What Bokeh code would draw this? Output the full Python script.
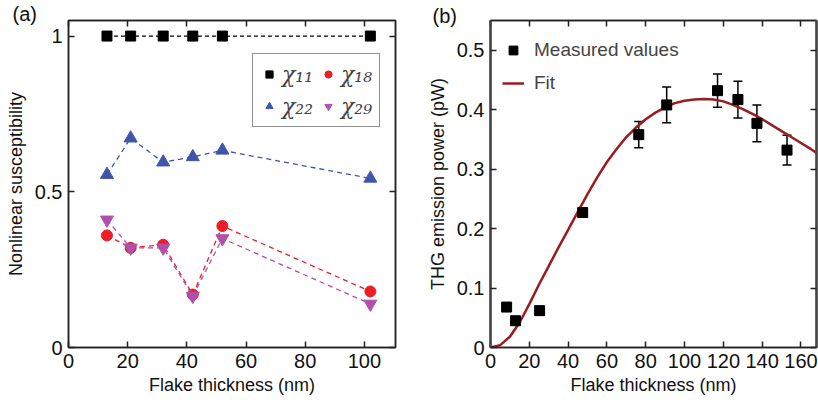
from bokeh.plotting import figure
from bokeh.models import (ColumnDataSource, Whisker, TeeHead, Legend, LegendItem,
                          LinearAxis, FixedTicker, Range1d)
from bokeh.layouts import row
from bokeh.embed import file_html
from bokeh.resources import INLINE

# ---------------- data ----------------
thick_a = [13, 21, 32, 42, 52, 102]
chi11 = [1.0, 1.0, 1.0, 1.0, 1.0, 1.0]
chi18 = [0.36, 0.32, 0.33, 0.17, 0.39, 0.18]
chi22 = [0.555, 0.672, 0.595, 0.612, 0.633, 0.543]
chi29 = [0.41, 0.32, 0.32, 0.165, 0.35, 0.14]

thick_b = [8.3, 12.9, 25.3, 47.5, 76.4, 90.8, 117.0, 127.5, 137.3, 152.8]
power = [0.068, 0.045, 0.062, 0.227, 0.358, 0.408, 0.432, 0.417, 0.377, 0.332]
power_err = [0.0, 0.0, 0.0, 0.004, 0.022, 0.030, 0.028, 0.031, 0.031, 0.025]

fit_x = [0, 5, 10, 15, 20, 25, 30, 35, 40, 45, 50, 55, 60, 65, 70, 75, 80, 85,
         90, 95, 100, 105, 110, 115, 120, 125, 130, 135, 140, 145, 150, 155,
         160, 165, 170]
fit_y = [0.0, 0.004, 0.018, 0.042, 0.073, 0.106, 0.137, 0.168, 0.198, 0.228,
         0.258, 0.286, 0.312, 0.334, 0.354, 0.370, 0.384, 0.395, 0.404, 0.411,
         0.415, 0.417, 0.418, 0.417, 0.414, 0.408, 0.401, 0.393, 0.384, 0.374,
         0.364, 0.354, 0.344, 0.334, 0.323]

ticks_a_x = [0, 20, 40, 60, 80, 100]
ticks_a_y = [0, 0.5, 1]
ticks_b_x = [0, 20, 40, 60, 80, 100, 120, 140, 160]
ticks_b_y = [0, 0.1, 0.2, 0.3, 0.4, 0.5]

FONT = "Liberation Sans"
AX = "#222222"
BLACK = "#000000"
RED = "#ee1c25"
BLUE = "#3f55aa"
MAG = "#b14fad"
FIT = "#9b1b1f"


def style_axes(p, xt, yt, ylabels=None):
    for ax in p.xaxis:
        ax.ticker = FixedTicker(ticks=xt)
    for ax in p.yaxis:
        ax.ticker = FixedTicker(ticks=yt)
    for ax in list(p.xaxis) + list(p.yaxis):
        ax.axis_line_color = AX
        ax.axis_line_width = 1.5
        ax.major_tick_line_color = AX
        ax.major_tick_line_width = 1.5
        ax.major_tick_in = 6
        ax.major_tick_out = 0
        ax.minor_tick_line_color = None
        ax.major_label_text_font = FONT
        ax.major_label_text_font_size = "20px"
        ax.major_label_text_color = "#111111"
        ax.axis_label_text_font = FONT
        ax.axis_label_text_font_size = "18px"
        ax.axis_label_text_font_style = "normal"
        ax.axis_label_text_color = "#111111"
    p.xaxis.major_label_standoff = 6
    p.yaxis.major_label_standoff = 6
    p.xaxis.axis_label_standoff = 4
    p.yaxis.axis_label_standoff = 6
    if ylabels:
        p.yaxis.major_label_overrides = ylabels
    # mirrored ticks on top and right
    top = LinearAxis(ticker=FixedTicker(ticks=xt), major_label_text_font_size="0px",
                     major_label_standoff=0, major_tick_in=6, major_tick_out=0,
                     minor_tick_line_color=None, axis_line_color=AX, axis_line_width=1.5,
                     major_tick_line_color=AX, major_tick_line_width=1.5)
    right = LinearAxis(ticker=FixedTicker(ticks=yt), major_label_text_font_size="0px",
                       major_label_standoff=0, major_tick_in=6, major_tick_out=0,
                       minor_tick_line_color=None, axis_line_color=AX, axis_line_width=1.5,
                       major_tick_line_color=AX, major_tick_line_width=1.5)
    p.add_layout(top, "above")
    p.add_layout(right, "right")
    p.xgrid.visible = False
    p.ygrid.visible = False
    p.outline_line_color = AX
    p.outline_line_width = 1.5


def style_title(p, offset, standoff):
    p.title.text_font = FONT
    p.title.text_font_size = "20px"
    p.title.text_font_style = "normal"
    p.title.text_color = "#111111"
    p.title.align = "left"
    p.title.vertical_align = "bottom"
    p.title.offset = offset
    p.title.standoff = standoff


# ---------------- panel (a) ----------------
pa = figure(width=410, height=408, output_backend="svg", toolbar_location=None,
            title="(a)",
            x_range=Range1d(0, 110.5), y_range=Range1d(0, 1.05),
            min_border_left=68, min_border_right=15, min_border_top=20,
            min_border_bottom=61)
pa.xaxis.axis_label = "Flake thickness (nm)"
pa.yaxis.axis_label = "Nonlinear susceptibility"
style_axes(pa, ticks_a_x, ticks_a_y, {0: "0", 0.5: "0.5", 1: "1"})
style_title(pa, -56, -9)

src_a = ColumnDataSource(dict(x=thick_a, c11=chi11, c18=chi18, c22=chi22, c29=chi29))
pa.line("x", "c11", source=src_a, line_color=BLACK, line_dash="4 3", line_width=1.3)
r11 = pa.scatter("x", "c11", source=src_a, marker="square", size=10, color=BLACK)
pa.line("x", "c22", source=src_a, line_color=BLUE, line_dash="5 4", line_width=1.3)
r22 = pa.scatter("x", "c22", source=src_a, marker="triangle", size=13, color=BLUE)
pa.line("x", "c18", source=src_a, line_color=RED, line_dash="5 4", line_width=1.3)
r18 = pa.scatter("x", "c18", source=src_a, marker="circle", size=11, color=RED)
pa.line("x", "c29", source=src_a, line_color=MAG, line_dash="5 4", line_width=1.3)
r29 = pa.scatter("x", "c29", source=src_a, marker="inverted_triangle", size=13, color=MAG)

leg_a = Legend(items=[LegendItem(label="χ₁₁", renderers=[r11]),
                      LegendItem(label="χ₂₂", renderers=[r22]),
                      LegendItem(label="χ₁₈", renderers=[r18]),
                      LegendItem(label="χ₂₉", renderers=[r29])],
               ncols=2, location=(184, 220))
leg_a.label_text_font = "DejaVu Serif"
leg_a.label_text_font_style = "italic"
leg_a.label_text_font_size = "22px"
leg_a.border_line_color = AX
leg_a.border_line_width = 1.5
leg_a.padding = 7
leg_a.spacing = 6
leg_a.glyph_width = 18
leg_a.glyph_height = 26
leg_a.label_height = 26
leg_a.label_standoff = 4
leg_a.background_fill_alpha = 1
pa.add_layout(leg_a)

# ---------------- panel (b) ----------------
pb = figure(width=408, height=408, output_backend="svg", toolbar_location=None,
            title="(b)",
            x_range=Range1d(0, 168), y_range=Range1d(0, 0.55),
            min_border_left=80, min_border_right=2, min_border_top=17,
            min_border_bottom=61)
pb.xaxis.axis_label = "Flake thickness (nm)"
pb.yaxis.axis_label = "THG emission power (pW)"
style_axes(pb, ticks_b_x, ticks_b_y, {0: "0", 0.1: "0.1", 0.2: "0.2", 0.3: "0.3",
                                       0.4: "0.4", 0.5: "0.5"})
style_title(pb, -58, -13)
pb.yaxis.axis_line_color = "#444444"
pb.yaxis.axis_line_width = 2.5

src_b = ColumnDataSource(dict(x=thick_b, y=power,
                              lo=[v - e for v, e in zip(power, power_err)],
                              hi=[v + e for v, e in zip(power, power_err)]))
fit_src = ColumnDataSource(dict(x=fit_x, y=fit_y))
rfit = pb.line("x", "y", source=fit_src, line_color=FIT, line_width=2.5)
wh = Whisker(source=src_b, base="x", lower="lo", upper="hi", line_color=BLACK,
             line_width=1.5,
             upper_head=TeeHead(size=9, line_color=BLACK, line_width=1.5),
             lower_head=TeeHead(size=9, line_color=BLACK, line_width=1.5))
pb.add_layout(wh)
rmeas = pb.scatter("x", "y", source=src_b, marker="square", size=10, color=BLACK)

leg_b = Legend(items=[LegendItem(label="Measured values", renderers=[rmeas]),
                      LegendItem(label="Fit", renderers=[rfit])],
               location=(12, 253))
leg_b.label_text_font = FONT
leg_b.label_text_font_size = "19px"
leg_b.border_line_color = None
leg_b.background_fill_alpha = 0
leg_b.padding = 8
leg_b.spacing = 11
leg_b.glyph_width = 22
leg_b.glyph_height = 22
leg_b.label_height = 22
leg_b.label_standoff = 10
pb.add_layout(leg_b)

layout = row(pa, pb)
open("out.html", "w").write(file_html(layout, INLINE))
